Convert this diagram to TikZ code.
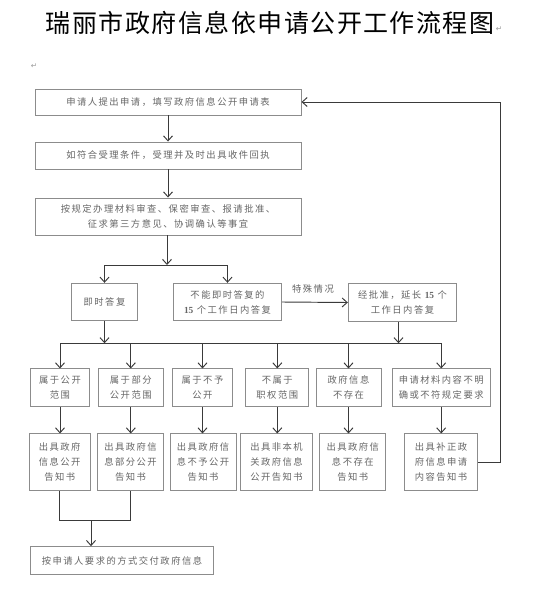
\documentclass[tikz,border=0pt]{standalone}
\usepackage{fontspec}
\setmainfont{Liberation Serif}
\newfontfamily\cjk[LetterSpace=16]{Noto Sans CJK SC}
\newfontfamily\titlefont[LetterSpace=6]{Noto Sans CJK SC}
\newfontfamily\symfont{DejaVu Sans}
\usetikzlibrary{arrows.meta}
\definecolor{boxgray}{HTML}{8C8C8C}
\definecolor{lngray}{HTML}{3A3A3A}
\definecolor{txtgray}{HTML}{666666}
\definecolor{markgray}{HTML}{9A9A9A}
\tikzset{
  bx/.style={draw=boxgray, line width=0.95pt, inner sep=0pt, align=center,
    font=\cjk\fontsize{9.3}{15}\selectfont, text=txtgray},
  lbl/.style={inner sep=0pt, font=\cjk\fontsize{9.3}{15}\selectfont, text=txtgray},
  arr/.style={draw=lngray, line width=0.95pt, -{Straight Barb[length=5pt,width=9pt]}},
  ln/.style={draw=lngray, line width=0.95pt},
  pmk/.style={inner sep=0pt, font=\symfont\fontsize{7.5}{7.5}\selectfont, text=markgray}
}
\newcommand{\bnum}[1]{{\rmfamily\bfseries #1}}
\begin{document}
\begin{tikzpicture}[x=1pt,y=-1pt]
\useasboundingbox (0,0) rectangle (544,600);
\fill[white] (0,0) rectangle (544,600);

% title
\node[inner sep=0pt, font=\titlefont\fontsize{25}{25}\selectfont, text=black] (title) at (270,23) {瑞丽市政府信息依申请公开工作流程图};
\node[pmk, anchor=west] (tmark) at ([yshift=-6pt,xshift=1pt]title.east) {↵};
\node[pmk] (pmark) at (34,66) {↵};

% top boxes
\node[bx, minimum width=266pt, minimum height=26pt] (s1) at (168,102) {申请人提出申请，填写政府信息公开申请表};
\node[bx, minimum width=266pt, minimum height=27pt] (s2) at (168,155.5) {如符合受理条件，受理并及时出具收件回执};
\node[bx, minimum width=266pt, minimum height=37pt] (s3) at (168,216.5) {按规定办理材料审查、保密审查、报请批准、\\征求第三方意见、协调确认等事宜};

% second level
\node[bx, minimum width=65.6pt, minimum height=37.4pt] (js) at (104.5,302) {即时答复};
\node[bx, minimum width=108.4pt, minimum height=37.4pt] (bn) at (227.5,302) {不能即时答复的\\\bnum{15} 个工作日内答复};
\node[bx, minimum width=108.4pt, minimum height=38pt] (yc) at (402.5,302.5) {经批准，延长 \bnum{15} 个\\工作日内答复};
\node[lbl] (tsqk) at (313,288.5) {特殊情况};

% level 1 categories
\node[bx, minimum width=58.6pt, minimum height=37.7pt] (a1) at (60,387.8) {属于公开\\范围};
\node[bx, minimum width=65pt, minimum height=37.7pt] (b1) at (130.8,387.8) {属于部分\\公开范围};
\node[bx, minimum width=59.6pt, minimum height=37.7pt] (c1) at (202.5,387.8) {属于不予\\公开};
\node[bx, minimum width=63.3pt, minimum height=37.7pt] (d1) at (277.3,387.8) {不属于\\职权范围};
\node[bx, minimum width=65pt, minimum height=37.7pt] (e1) at (348.5,387.8) {政府信息\\不存在};
\node[bx, minimum width=97.7pt, minimum height=37.7pt] (f1) at (441.2,387.8) {申请材料内容不明\\确或不符规定要求};

% level 2 notices
\node[bx, minimum width=60.7pt, minimum height=56.7pt] (a2) at (59.7,462.3) {出具政府\\信息公开\\告知书};
\node[bx, minimum width=65.6pt, minimum height=56.7pt] (b2) at (130.5,462.3) {出具政府信\\息部分公开\\告知书};
\node[bx, minimum width=66pt, minimum height=56.7pt] (c2) at (203,462.3) {出具政府信\\息不予公开\\告知书};
\node[bx, minimum width=71.6pt, minimum height=56.7pt] (d2) at (276.5,462.3) {出具非本机\\关政府信息\\公开告知书};
\node[bx, minimum width=65.7pt, minimum height=56.7pt] (e2) at (352.8,462.3) {出具政府信\\息不存在\\告知书};
\node[bx, minimum width=73.4pt, minimum height=56.7pt] (f2) at (441,462.3) {出具补正政\\府信息申请\\内容告知书};

% final
\node[bx, minimum width=182.6pt, minimum height=28.3pt] (fin) at (122,560.8) {按申请人要求的方式交付政府信息};

% coordinates
\coordinate (bar1) at (167,265);
\coordinate (bar2) at (60,343.3);
\coordinate (fb) at (500,300);
\coordinate (mrg) at (91,520);

% connectors top
\draw[arr] (s1) -- (s2);
\draw[arr] (s2) -- (s3);
\draw[arr] (s3.south -| bar1) -- (bar1);
\draw[ln] (bar1 -| js.north) -- (bar1 -| bn.north);
\draw[arr] (bar1 -| js.north) -- (js.north);
\draw[arr] (bar1 -| bn.north) -- (bn.north);
\draw[arr] (bn.east) -- (yc.west);

% second bar
\draw[arr] (js.south) -- (js.south |- bar2);
\draw[arr] ([xshift=-4pt]yc.south) -- ([xshift=-4pt]yc.south |- bar2);
\draw[ln] (bar2) -- (bar2 -| f1.north);
\foreach \n in {a1,b1,c1,d1,e1,f1}{
  \draw[arr] (bar2 -| \n.north) -- (\n.north);
  \draw[arr] (\n.south) -- (\n.south |- a2.north);
}

% merge to final
\draw[ln] (a2.south) -- (a2.south |- mrg) -- (b2.south |- mrg) -- (b2.south);
\draw[arr] (mrg) -- (mrg |- fin.north);

% feedback
\draw[arr] (f2.east) -- (f2.east -| fb) |- (s1.east);
\end{tikzpicture}
\end{document}
